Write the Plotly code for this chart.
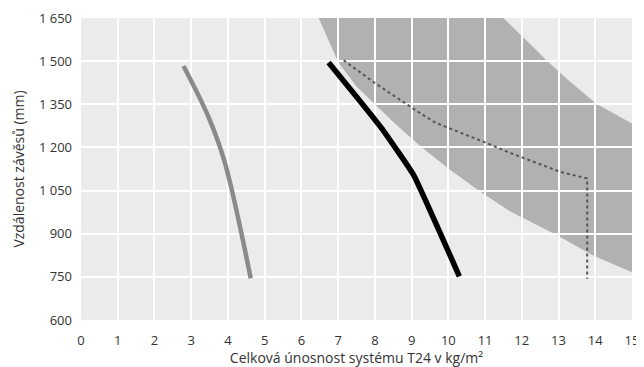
import plotly.graph_objects as go

# grey curve
grey_x = [2.79, 3.47, 3.91, 4.62]
grey_y = [1483, 1306, 1150, 745]

# black curve
black_x = [6.74, 7.5, 8.24, 9.06, 10.3]
black_y = [1495, 1376, 1257, 1103, 752]

# dotted curve
dot_x = [7.15, 8.01, 9.15, 9.65, 11.05, 11.64, 13.05, 13.78, 13.78]
dot_y = [1503, 1423, 1326, 1286, 1215, 1183, 1115, 1092, 743]

# shaded band: lower boundary and upper boundary
band_low_x = [6.47, 7.0, 7.5, 8.0, 8.5, 9.28, 10.0, 10.87, 11.69, 12.92, 13.96, 15.0]
band_low_y = [1650, 1497, 1412, 1350, 1288, 1200, 1127, 1046, 977, 897, 823, 766]
band_up_x = [15.0, 14.05, 13.3, 12.7, 12.1, 11.5]
band_up_y = [1283, 1350, 1430, 1500, 1575, 1650]

y_ticks = [600, 750, 900, 1050, 1200, 1350, 1500, 1650]
y_labels = ["600", "750", "900", "1 050", "1 200", "1 350", "1 500", "1 650"]
x_ticks = list(range(0, 16))

fig = go.Figure()

bx = band_low_x + band_up_x
by = band_low_y + band_up_y
path = "M " + " L ".join(f"{x},{y}" for x, y in zip(bx, by)) + " Z"
fig.add_shape(type="path", path=path, xref="x", yref="y", fillcolor="#b1b1b1",
              line=dict(width=0), layer="below")

fig.add_trace(go.Scatter(x=grey_x, y=grey_y, mode="lines", line=dict(color="#8a8a8a", width=4.5, shape="spline", smoothing=1), showlegend=False))
fig.add_trace(go.Scatter(x=black_x, y=black_y, mode="lines", line=dict(color="black", width=5.5, shape="spline", smoothing=0.3), showlegend=False))
fig.add_trace(go.Scatter(x=dot_x, y=dot_y, mode="lines", line=dict(color="#555555", width=2, dash="dot"), showlegend=False))

# page body has an 8px margin, so the figure is shrunk to fit the window
fig.update_layout(
    width=636, height=359,
    margin=dict(l=73, r=12, t=10, b=47),
    plot_bgcolor="#ebebeb", paper_bgcolor="white",
    font=dict(family="Open Sans", size=13, color="#333333"),
    xaxis=dict(range=[0, 15], tickvals=x_ticks, showgrid=True, gridcolor="white", gridwidth=2,
               zeroline=False, ticks="", automargin=False, ticklabelstandoff=11,
               title=dict(text="Celková únosnost systému T24 v kg/m²", font=dict(size=14), standoff=0)),
    yaxis=dict(range=[600, 1650], tickvals=y_ticks, ticktext=y_labels, showgrid=True, gridcolor="white", gridwidth=2,
               zeroline=False, ticks="", automargin=False, ticklabelstandoff=8,
               title=dict(text="Vzdálenost závěsů (mm)", font=dict(size=14), standoff=10)),
)

fig.write_html("out.html")
